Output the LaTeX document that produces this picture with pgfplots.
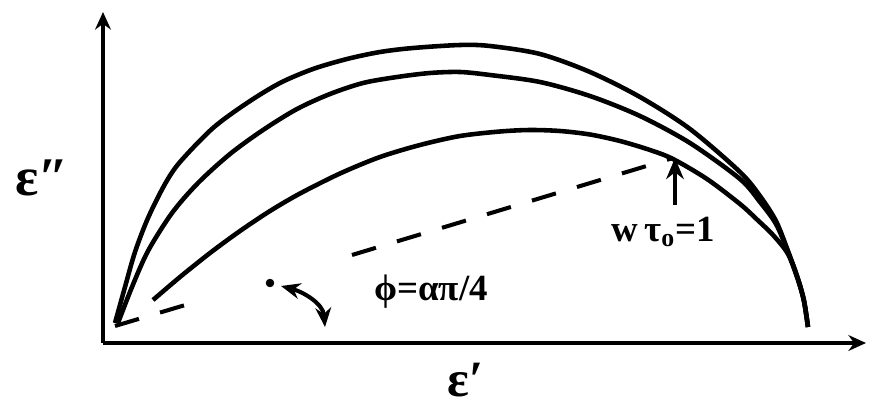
\documentclass[border=0pt]{standalone}
\usepackage{pgfplots}
\pgfplotsset{compat=1.18}
\usepackage{fontspec}
\setmainfont{Liberation Serif}
\usetikzlibrary{arrows.meta}
\begin{document}
\begin{tikzpicture}
\begin{axis}[
  scale only axis, width=152.6mm, height=66.2mm,
  xmin=103, xmax=866, ymin=66, ymax=397,
  axis lines*=left,
  axis line style={line width=2.4pt, -{Stealth[length=10pt,width=9pt]}},
  xtick=\empty, ytick=\empty,
  clip=false,
]
% outer arc
\addplot[smooth, line width=2.6pt] coordinates {
(115,86)(125,122)(135,157)(148,191)(165,225)(180,247)(213,281)(247,306)(280,326)(313,340)(347,350)(380,357)(413,361)(460,364)(490,363)(540,355)(590,337)(640,312)(690,280)(740,237)(760,213)(776,188)(788,158)(798,130)(804,108)(808,82)};
% middle arc
\addplot[smooth, line width=2.6pt] coordinates {
(118,86)(132,122)(148,158)(172,196)(198,226)(230,255)(263,279)(297,300)(330,315)(363,326)(397,332)(430,336)(460,337)(490,334)(540,327)(590,313)(640,293)(690,266)(740,230)(760,207)(776,185)(788,157)(798,130)(804,108)(808,82)};
% inner arc
\addplot[smooth, line width=2.6pt] coordinates {
(153,109)(180,132)(210,156)(240,178)(270,198)(300,215.5)(340,235.5)(380,252)(420,264)(460,273)(500,277.5)(530,279)(560,278)(590,274.5)(620,268)(650,259)(673,250)(707,230)(740,205)(757,189.5)(773,174)(788,155)(798,129)(804,108)(808,82)};
% dashed line
\addplot[line width=2.3pt, dash pattern=on 5mm off 4.4mm] coordinates {(115,83)(192,106)};
\addplot[line width=2.3pt, dash pattern=on 5mm off 4.4mm] coordinates {(352,154)(673,251)};
% dot
\addplot[only marks, mark=*, mark size=2.2pt] coordinates {(270,126)};
% arrows
\draw[line width=2.3pt, -{Stealth[length=12pt,width=10pt]}] (axis cs:675,204) -- (axis cs:675,251);
\draw[line width=2.3pt, {Stealth[length=11pt,width=9pt]}-{Stealth[length=11pt,width=9pt]}] (axis cs:281,123) to[out=-15,in=95] (axis cs:325,82);
% labels
\node[inner sep=0pt] at (axis cs:42,231) {\fontsize{31}{31}\selectfont\bfseries ε″};
\node[inner sep=0pt] at (axis cs:466,29) {\fontsize{29}{29}\selectfont\bfseries ε′};
\node[inner sep=0pt] at (axis cs:431,117) {\fontsize{21}{21}\selectfont\bfseries ϕ=απ/4};
\node[inner sep=0pt] at (axis cs:663,177) {\fontsize{21}{21}\selectfont\bfseries w\,τ\textsubscript{o}=1};
\coordinate (BL) at (axis cs:0,0);
\coordinate (TR) at (axis cs:869,409);
\end{axis}
\pgfresetboundingbox
\useasboundingbox (BL) rectangle (TR);
\end{tikzpicture}
\end{document}
